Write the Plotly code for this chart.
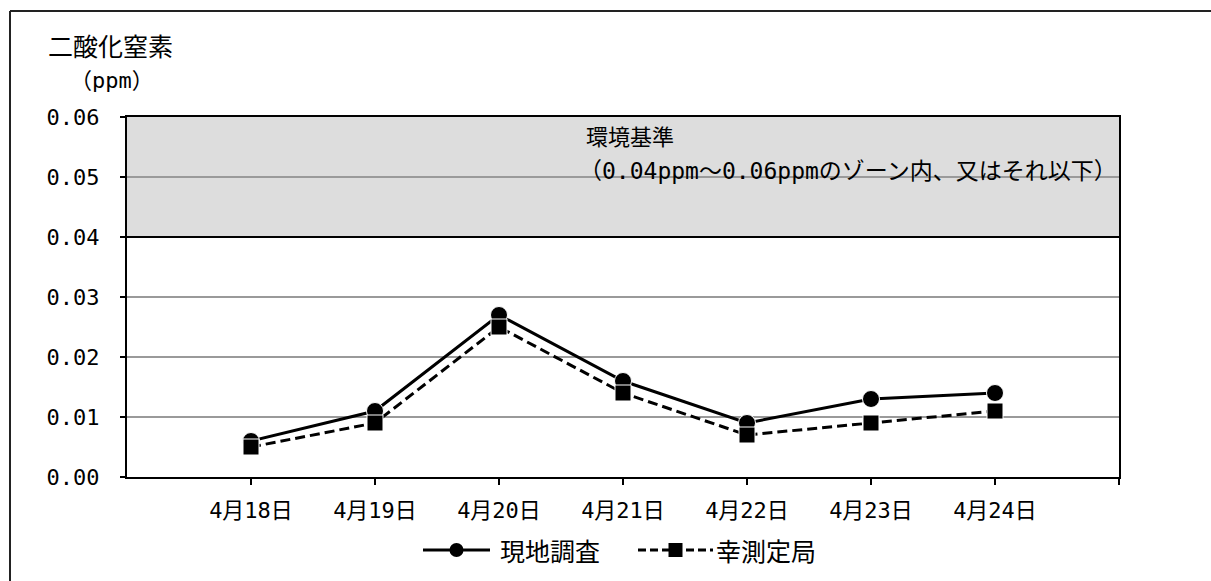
import plotly.graph_objects as go

# Daily NO2 readings (ppm)
dates = ["4月18日", "4月19日", "4月20日", "4月21日", "4月22日", "4月23日", "4月24日"]
genchi = [0.006, 0.011, 0.027, 0.016, 0.009, 0.013, 0.014]   # 現地調査
saiwai = [0.005, 0.009, 0.025, 0.014, 0.007, 0.009, 0.011]   # 幸測定局
series_names = ["現地調査", "幸測定局"]

y_ticks = [0.00, 0.01, 0.02, 0.03, 0.04, 0.05, 0.06]
std_low, std_high = 0.04, 0.06   # 環境基準 zone

W, H = 1211, 581
ML, MR, MT, MB = 127, 92, 117, 104
PW, PH = W - ML - MR, H - MT - MB

FONT = "DejaVu Sans Mono, Noto Sans CJK JP"
BIG = "Noto Sans CJK JP"
DASH = "10px,5px"


def px_x(p):
    return (p - ML) / PW


def px_y(p):
    return (H - MB - p) / PH


xs = list(range(len(dates)))

fig = go.Figure()
fig.add_trace(go.Scatter(
    x=xs, y=genchi, name=series_names[0], mode="lines+markers",
    line=dict(color="black", width=3),
    marker=dict(symbol="circle", size=17, color="black",
                line=dict(color="white", width=1)),
))
fig.add_trace(go.Scatter(
    x=xs, y=saiwai, name=series_names[1], mode="lines+markers",
    line=dict(color="black", width=3, dash=DASH),
    marker=dict(symbol="square", size=16, color="black",
                line=dict(color="white", width=1)),
))

# shaded standard zone and its lower boundary
fig.add_shape(type="rect", xref="paper", yref="y", x0=0, x1=1,
              y0=std_low, y1=std_high, fillcolor="#dddddd",
              line=dict(width=0), layer="below")
fig.add_shape(type="line", xref="paper", yref="y", x0=0, x1=1,
              y0=std_low, y1=std_low, line=dict(color="black", width=2))

# outer frame (top and left edges)
fig.add_shape(type="line", xref="paper", yref="paper",
              x0=px_x(10), x1=px_x(W + 20), y0=px_y(11), y1=px_y(11),
              line=dict(color="#222222", width=2))
fig.add_shape(type="line", xref="paper", yref="paper",
              x0=px_x(10), x1=px_x(10), y0=px_y(11), y1=px_y(H + 20),
              line=dict(color="#222222", width=2))

# legend below the axis: line sample, marker sample, label
LEG_Y = 550
legend_items = [
    dict(x0=423, x1=490, dash="solid", shape="circle", tx=498),
    dict(x0=638, x1=713, dash="8px,4px", shape="rect", tx=714),
]
for name, item in zip(series_names, legend_items):
    fig.add_shape(type="line", xref="paper", yref="paper",
                  x0=px_x(item["x0"]), x1=px_x(item["x1"]),
                  y0=px_y(LEG_Y), y1=px_y(LEG_Y),
                  line=dict(color="black", width=3, dash=item["dash"]))
    cx = px_x((item["x0"] + item["x1"]) / 2)
    fig.add_shape(type=item["shape"], xref="paper", yref="paper",
                  xsizemode="pixel", ysizemode="pixel",
                  xanchor=cx, yanchor=px_y(LEG_Y),
                  x0=-7, x1=7, y0=-7, y1=7,
                  fillcolor="black", line=dict(color="black", width=0))
    fig.add_annotation(text=name, xref="paper", yref="paper",
                       x=px_x(item["tx"]), y=px_y(LEG_Y),
                       xanchor="left", yanchor="middle", showarrow=False,
                       font=dict(family=BIG, size=25, color="black"))

fig.add_annotation(text="二酸化窒素", xref="paper", yref="paper",
                   x=px_x(46), y=px_y(45), xanchor="left", yanchor="middle",
                   showarrow=False, font=dict(family=BIG, size=25, color="black"))
fig.add_annotation(text="（ppm）", xref="paper", yref="paper",
                   x=px_x(68), y=px_y(81), xanchor="left", yanchor="middle",
                   showarrow=False, font=dict(family=FONT, size=22, color="black"))
fig.add_annotation(text="環境基準", xref="paper", yref="paper",
                   x=px_x(584), y=px_y(137), xanchor="left", yanchor="middle",
                   showarrow=False, font=dict(family=FONT, size=22, color="black"))
fig.add_annotation(text="（0.04ppm～0.06ppmのゾーン内、又はそれ以下）",
                   xref="paper", yref="paper",
                   x=px_x(1119), y=px_y(171), xanchor="right", yanchor="middle",
                   showarrow=False, font=dict(family=FONT, size=23, color="black"))

fig.update_layout(
    width=W, height=H,
    margin=dict(l=ML, r=MR, t=MT, b=MB),
    paper_bgcolor="white", plot_bgcolor="white",
    font=dict(family=FONT, size=22, color="black"),
    showlegend=False,
    xaxis=dict(range=[-1, len(dates)],
               tickmode="array", tickvals=xs + [len(dates)],
               ticktext=dates + [""],
               showgrid=False, zeroline=False,
               showline=True, linecolor="black", linewidth=2, mirror=True,
               ticks="outside", ticklen=6, tickwidth=2, tickcolor="black",
               ticklabelstandoff=7,
               tickfont=dict(family=FONT, size=22, color="black")),
    yaxis=dict(range=[0, 0.06], tickmode="array", tickvals=y_ticks,
               tickformat=".2f",
               showgrid=True, gridcolor="#9a9a9a", gridwidth=1.5,
               zeroline=False,
               showline=True, linecolor="black", linewidth=2, mirror=True,
               ticks="outside", ticklen=5, tickwidth=2, tickcolor="black",
               ticklabelstandoff=16,
               tickfont=dict(family=FONT, size=22, color="black")),
)

fig.write_html("out.html")
